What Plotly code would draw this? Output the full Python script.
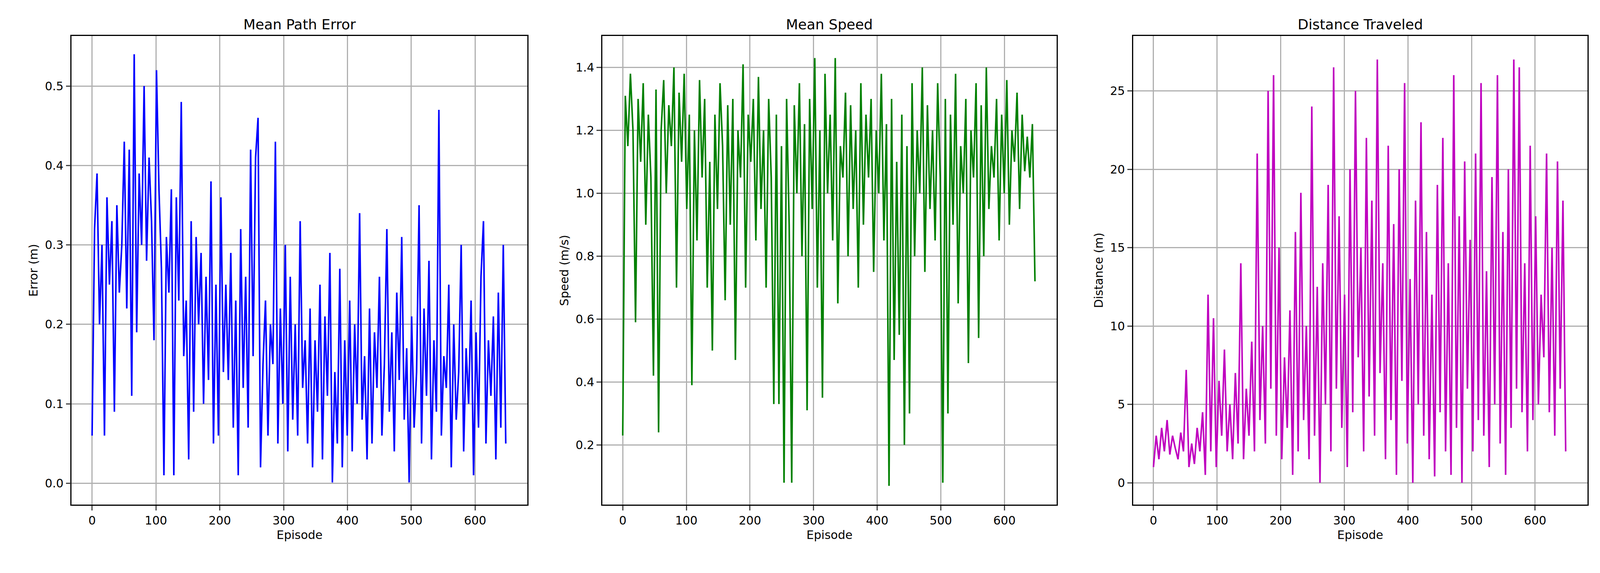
import numpy as np
import plotly.graph_objects as go
from plotly.subplots import make_subplots

path_error = [0.06,0.32,0.39,0.20,0.30,0.06,0.36,0.25,0.33,0.09,0.35,0.24,0.30,0.43,0.22,0.42,0.11,0.54,0.19,0.39,
              0.30,0.50,0.28,0.41,0.33,0.18,0.52,0.37,0.27,0.01,0.31,0.24,0.37,0.01,0.36,0.23,0.48,0.16,0.23,0.03,
              0.33,0.09,0.31,0.20,0.29,0.10,0.26,0.13,0.38,0.05,0.25,0.06,0.36,0.14,0.25,0.13,0.29,0.07,0.23,0.01,
              0.32,0.12,0.26,0.07,0.42,0.16,0.41,0.46,0.02,0.15,0.23,0.06,0.20,0.15,0.43,0.05,0.22,0.10,0.30,0.04,
              0.26,0.08,0.20,0.06,0.33,0.12,0.18,0.05,0.22,0.02,0.18,0.09,0.25,0.03,0.21,0.11,0.29,0.001,0.14,0.05,
              0.27,0.02,0.18,0.06,0.23,0.04,0.20,0.10,0.34,0.08,0.16,0.03,0.22,0.05,0.19,0.12,0.26,0.06,0.15,0.32,
              0.09,0.19,0.04,0.24,0.13,0.31,0.08,0.17,0.001,0.21,0.07,0.14,0.35,0.05,0.22,0.11,0.28,0.03,0.18,0.09,
              0.47,0.06,0.16,0.12,0.25,0.02,0.20,0.08,0.14,0.30,0.04,0.17,0.10,0.23,0.01,0.19,0.07,0.26,0.33,0.05,
              0.18,0.11,0.21,0.03,0.24,0.07,0.30,0.05]
mean_speed = [0.23,1.31,1.15,1.38,1.20,0.59,1.30,1.10,1.35,0.90,1.25,1.05,0.42,1.33,0.24,1.20,1.36,1.00,1.28,1.15,
              1.40,0.70,1.32,1.10,1.38,0.95,1.25,0.39,1.20,0.85,1.36,1.05,1.30,0.70,1.10,0.50,1.25,0.95,1.35,1.15,
              0.66,1.28,0.90,1.30,0.47,1.20,1.05,1.41,0.70,1.25,1.10,1.30,0.85,1.37,0.95,1.20,0.70,1.30,1.05,0.33,
              1.25,0.33,1.15,0.08,1.30,0.90,0.08,1.28,1.00,1.35,0.80,1.22,0.31,1.30,0.95,1.43,0.70,1.20,0.35,1.38,
              1.00,1.25,0.85,1.43,0.65,1.15,1.05,1.32,0.80,1.28,0.95,1.20,0.70,1.35,0.90,1.25,1.05,1.30,0.75,1.20,
              1.00,1.38,0.85,1.22,0.07,1.30,0.47,1.10,0.55,1.25,0.20,1.15,0.30,1.35,0.80,1.20,1.00,1.40,0.75,1.28,
              0.95,1.20,0.85,1.35,1.05,0.08,1.30,0.30,1.25,0.90,1.38,0.65,1.15,1.00,1.30,0.46,1.20,1.05,1.35,0.54,
              1.28,0.80,1.40,0.95,1.15,1.05,1.30,0.85,1.25,1.00,1.36,0.90,1.20,1.10,1.32,0.95,1.25,1.07,1.18,1.05,
              1.22,0.72]
distance = [1.0,3.0,1.5,3.5,2.0,4.0,1.8,3.0,2.2,1.5,3.2,2.0,7.2,1.0,2.5,1.2,3.5,2.0,4.5,0.5,
            12.0,2.0,10.5,1.0,6.5,3.0,8.5,2.0,5.0,1.5,7.0,2.5,14.0,1.5,6.0,3.0,9.0,2.0,21.0,4.0,
            10.0,2.5,25.0,6.0,26.0,3.0,15.0,1.5,8.0,3.5,11.0,0.5,16.0,2.0,18.5,4.0,10.0,1.5,24.0,3.0,
            12.5,0.0,14.0,5.0,19.0,2.0,26.5,6.0,17.0,3.5,12.0,1.0,20.0,4.5,25.0,8.0,15.0,2.0,22.0,5.5,
            18.0,3.0,27.0,7.0,14.0,1.5,21.5,4.0,16.5,0.5,20.0,6.5,25.5,2.5,13.0,0.0,18.0,5.0,23.0,3.0,
            16.0,1.5,12.0,0.4,19.0,4.5,22.0,2.0,14.0,0.5,26.0,3.5,17.0,0.0,20.5,6.0,15.5,2.0,21.0,4.0,
            25.5,3.0,13.5,1.0,19.5,5.0,26.0,2.5,16.0,0.5,20.0,3.5,27.0,6.0,26.5,4.5,14.0,2.0,21.5,4.0,
            17.0,5.0,12.0,8.0,21.0,4.5,15.0,3.0,20.5,6.0,18.0,2.0]

titles = ["Mean Path Error", "Mean Speed", "Distance Traveled"]
y_titles = ["Error (m)", "Speed (m/s)", "Distance (m)"]
colors = ["#0000ff", "#008000", "#bf00bf"]
series = [path_error, mean_speed, distance]
y_ranges = [[-0.027, 0.563], [0.01, 1.5], [-1.4, 28.5]]
y_dticks = [0.1, 0.2, 5]
y_formats = [".1f", ".1f", "d"]

fig = make_subplots(rows=1, cols=3)
x_domains = [[0.043, 0.329], [0.376, 0.661], [0.709, 0.994]]

font = dict(family="DejaVu Sans", size=30, color="black")
for i, y in enumerate(series):
    ep = np.arange(len(y)) * 648 / (len(y) - 1)
    fig.add_trace(go.Scatter(x=ep, y=y, mode="lines", line=dict(color=colors[i], width=4),
                             showlegend=False), row=1, col=i + 1)
    axis_style = dict(showline=True, linecolor="black", linewidth=2.5, mirror=True,
                      ticks="outside", ticklen=12, tickwidth=2.5, showgrid=True,
                      gridcolor="#b0b0b0", gridwidth=2.5, zeroline=False, tickfont=font)
    fig.update_xaxes(domain=x_domains[i], range=[-32, 682], dtick=100, title_text="Episode",
                     title_font=font, title_standoff=10, **axis_style, row=1, col=i + 1)
    fig.update_yaxes(domain=[0.115, 0.942], range=y_ranges[i], dtick=y_dticks[i], tickformat=y_formats[i],
                     title_text=y_titles[i], title_font=font, title_standoff=10, **axis_style, row=1, col=i + 1)
    xc = (x_domains[i][0] + x_domains[i][1]) / 2
    fig.add_annotation(text=titles[i], x=xc, y=0.947, xref="paper", yref="paper",
                       xanchor="center", yanchor="bottom", showarrow=False,
                       font=dict(family="DejaVu Sans", size=36, color="black"))

fig.update_layout(autosize=True, plot_bgcolor="white", paper_bgcolor="white",
                  margin=dict(l=0, r=0, t=0, b=0))
fig.write_html("out.html", default_width="100%", default_height="100%",
               config={"responsive": True})
